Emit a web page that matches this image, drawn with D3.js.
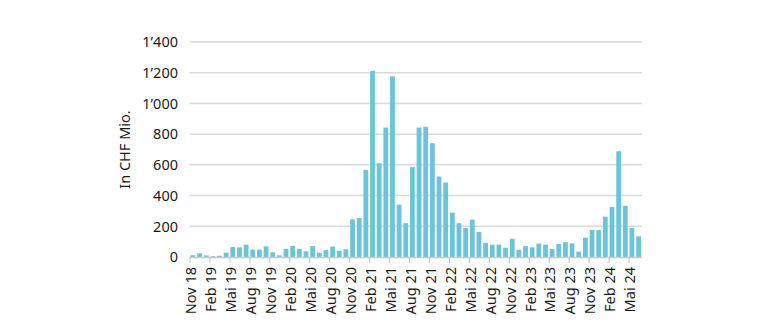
<!DOCTYPE html>
<html>
<head>
<meta charset="utf-8">
<script src="https://cdn.jsdelivr.net/npm/d3@7/dist/d3.min.js"></script>
<style>
  html, body { margin: 0; padding: 0; background: #ffffff; }
  svg { display: block; }
  text { font-family: "Noto Sans", "Open Sans", sans-serif; fill: #1a1a1a; }
</style>
</head>
<body>
<svg id="chart" width="782" height="336"></svg>
<script>
const categories = [
  "Nov 18","Dez 18",
  "Jan 19","Feb 19","Mär 19","Apr 19","Mai 19","Jun 19","Jul 19","Aug 19","Sep 19","Okt 19","Nov 19","Dez 19",
  "Jan 20","Feb 20","Mär 20","Apr 20","Mai 20","Jun 20","Jul 20","Aug 20","Sep 20","Okt 20","Nov 20","Dez 20",
  "Jan 21","Feb 21","Mär 21","Apr 21","Mai 21","Jun 21","Jul 21","Aug 21","Sep 21","Okt 21","Nov 21","Dez 21",
  "Jan 22","Feb 22","Mär 22","Apr 22","Mai 22","Jun 22","Jul 22","Aug 22","Sep 22","Okt 22","Nov 22","Dez 22",
  "Jan 23","Feb 23","Mär 23","Apr 23","Mai 23","Jun 23","Jul 23","Aug 23","Sep 23","Okt 23","Nov 23","Dez 23",
  "Jan 24","Feb 24","Mär 24","Apr 24","Mai 24","Jun 24"
];
const values = [
  12, 24,
  10, 5, 8, 28, 65, 63, 80, 48, 48, 69, 30, 11,
  53, 72, 53, 37, 71, 28, 45, 68, 40, 50, 246, 254,
  567, 1212, 611, 843, 1176, 341, 220, 585, 843, 848, 741, 524,
  485, 289, 220, 189, 243, 163, 92, 80, 80, 60, 118, 47,
  71, 63, 88, 80, 52, 85, 97, 89, 35, 126, 176, 176,
  263, 326, 689, 333, 189, 135
];
const tickLabels = ["Nov 18","Feb 19","Mai 19","Aug 19","Nov 19","Feb 20","Mai 20","Aug 20","Nov 20","Feb 21","Mai 21","Aug 21","Nov 21","Feb 22","Mai 22","Aug 22","Nov 22","Feb 23","Mai 23","Aug 23","Nov 23","Feb 24","Mai 24"];
const yTicks = [0, 200, 400, 600, 800, 1000, 1200, 1400];
const yTitle = "In CHF Mio.";

(function () {
const svg = d3.select("#chart");
const pLeft = 189.5, pRight = 642, pTop = 42, pBottom = 257;

const x = d3.scaleBand().domain(categories).range([pLeft, pRight]).paddingInner(0.28).paddingOuter(0.15);
const y = d3.scaleLinear().domain([0, 1400]).range([pBottom, pTop]);

const fmt = v => v >= 1000 ? d3.format(",")(v).replace(",", "\u2019") : String(v);

// gridlines
svg.append("g").selectAll("line").data(yTicks.filter(d => d > 0)).join("line")
  .attr("x1", pLeft).attr("x2", pRight)
  .attr("y1", d => y(d)).attr("y2", d => y(d))
  .attr("stroke", "#d9d9d9").attr("stroke-width", 1.5);

// y labels
svg.append("g").selectAll("text").data(yTicks).join("text")
  .attr("x", 178).attr("y", d => y(d)).attr("dy", "0.36em")
  .attr("text-anchor", "end").attr("font-size", 14.5)
  .text(fmt);

// y title
svg.append("text")
  .attr("transform", `translate(130,${(pTop + pBottom) / 2}) rotate(-90)`)
  .attr("text-anchor", "middle").attr("font-size", 14.5)
  .text(yTitle);

// bars
svg.append("g").selectAll("rect").data(values).join("rect")
  .attr("x", (d, i) => x(categories[i]))
  .attr("width", x.bandwidth())
  .attr("y", d => y(d))
  .attr("height", d => y(0) - y(d))
  .attr("fill", "#6cc4da");

// baseline
svg.append("line").attr("x1", pLeft).attr("x2", pRight)
  .attr("y1", pBottom + 0.5).attr("y2", pBottom + 0.5)
  .attr("stroke", "#c8c8c8").attr("stroke-width", 1.5);

// x ticks & labels
const tx = c => x(c) - 0.5;
const gx = svg.append("g");
gx.selectAll("line").data(tickLabels).join("line")
  .attr("x1", tx).attr("x2", tx)
  .attr("y1", pBottom).attr("y2", pBottom + 6)
  .attr("stroke", "#c8c8c8").attr("stroke-width", 1.2);
gx.selectAll("text").data(tickLabels).join("text")
  .attr("transform", d => `translate(${tx(d) + 1},${pBottom + 10}) rotate(-90)`)
  .attr("dy", "0.36em")
  .attr("text-anchor", "end").attr("font-size", 14.5)
  .text(d => d);
})();
</script>
</body>
</html>
